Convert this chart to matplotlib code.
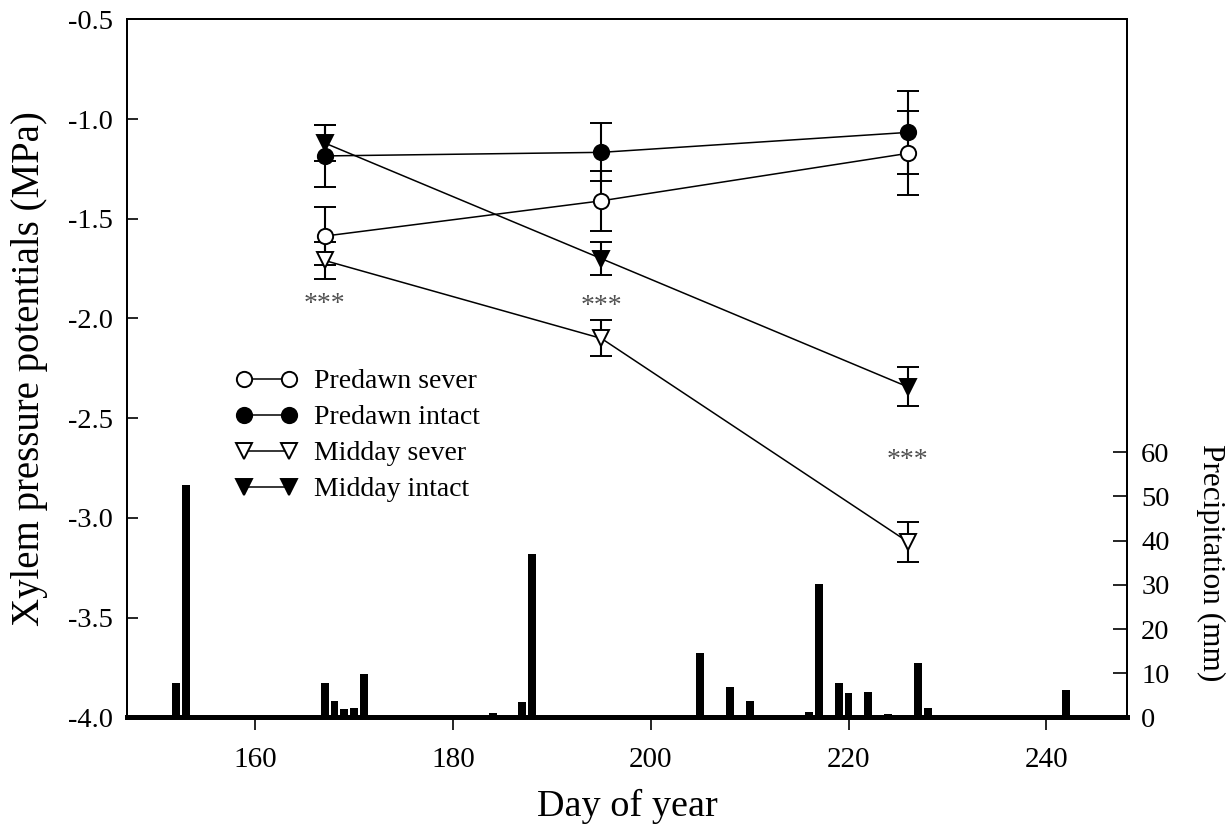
import numpy as np
import matplotlib
matplotlib.use("Agg")
import matplotlib.pyplot as plt

plt.rcParams['font.family'] = ['Liberation Serif', 'DejaVu Serif']
plt.rcParams['axes.unicode_minus'] = False

# Xylem pressure potentials (MPa), day of year
days = [167, 195, 226]
predawn_sever = [-1.587, -1.41, -1.172]
predawn_sever_err = [0.147, 0.15, 0.21]
predawn_intact = [-1.185, -1.167, -1.067]
predawn_intact_err = [0.155, 0.145, 0.21]
midday_sever = [-1.709, -2.10, -3.12]
midday_sever_err = [0.092, 0.09, 0.10]
midday_intact = [-1.12, -1.70, -2.343]
midday_intact_err = [0.09, 0.084, 0.098]

# significance marks
star_days = [167, 195, 226]
star_y = [-1.93, -1.94, -2.71]

# Precipitation (mm)
rain_days = [152, 153, 163, 164, 167, 168, 169, 170, 171, 184, 187, 188, 197,
             205, 206, 208, 210, 216, 217, 219, 220, 222, 224, 227, 228, 242]
rain_mm = [7.7, 52.6, 0.6, 0.5, 7.8, 3.7, 1.9, 2.2, 9.8, 1.1, 3.4, 37.0, 0.5,
           14.5, 0.5, 6.8, 3.7, 1.3, 30.2, 7.8, 5.6, 5.7, 0.7, 12.4, 2.2, 6.3]

fig = plt.figure(figsize=(12.32, 8.4), dpi=100)
ax = fig.add_axes([0.103, 0.146, 0.812, 0.831])
ax2 = ax.twinx()

ax2.bar(rain_days, rain_mm, width=0.8, color='black', align='center')
ax2.set_ylim(0, 158)
ax2.set_yticks(np.arange(0, 61, 10))

ax.set_zorder(ax2.get_zorder() + 1)
ax.patch.set_visible(False)

series = [
    (predawn_sever, predawn_sever_err, 'o', 'white', 'Predawn sever'),
    (predawn_intact, predawn_intact_err, 'o', 'black', 'Predawn intact'),
    (midday_sever, midday_sever_err, 'v', 'white', 'Midday sever'),
    (midday_intact, midday_intact_err, 'v', 'black', 'Midday intact'),
]
for vals, err, mk, fc, lab in series:
    ax.errorbar(days, vals, yerr=err, color='black', lw=1.1, marker=mk,
                markersize=11, markerfacecolor=fc, markeredgecolor='black',
                markeredgewidth=1.4, ecolor='black', elinewidth=1.5,
                capsize=8, capthick=1.5, label=lab)

for d, y in zip(star_days, star_y):
    ax.text(d, y, '***', ha='center', va='center', fontsize=20, color='#505050')

ax.set_xlim(147, 248.2)
ax.set_ylim(-4.0, -0.5)
ax.set_xticks([160, 180, 200, 220, 240])
ax.set_yticks(np.arange(-4.0, -0.49, 0.5))
ax.set_yticklabels(['%.1f' % v for v in np.arange(-4.0, -0.49, 0.5)])

ax.tick_params(axis='y', direction='in', length=8, width=1.2, labelsize=20.5, pad=10)
ax.tick_params(axis='x', direction='out', length=9, width=1.2, labelsize=21, pad=12)
ax2.tick_params(axis='y', direction='in', length=10, width=1.2, labelsize=20.5, pad=10)

for sp in ['left', 'right', 'top']:
    ax.spines[sp].set_linewidth(1.4)
    ax2.spines[sp].set_linewidth(1.4)
ax.spines['bottom'].set_linewidth(3.5)
ax2.spines['bottom'].set_linewidth(3.5)

ax.set_xlabel('Day of year', fontsize=27.5)
ax.xaxis.set_label_coords(0.5, -0.103)
ax.set_ylabel('Xylem pressure potentials (MPa)', fontsize=28)
ax.yaxis.set_label_coords(-0.079, 0.5)
ax2.set_ylabel('Precipitation (mm)', fontsize=22.5, rotation=270)
ax2.yaxis.set_label_coords(1.098, 0.222)

handles, labels = ax.get_legend_handles_labels()
handles = [h[0] if isinstance(h, tuple) else h for h in handles]
ax.legend(handles, labels, loc='upper left', bbox_to_anchor=(0.095, 0.519),
          frameon=False, fontsize=20, numpoints=2, handlelength=2.2,
          handletextpad=0.6, labelspacing=0.38, borderpad=0)

fig.savefig('out.png', dpi=100)
